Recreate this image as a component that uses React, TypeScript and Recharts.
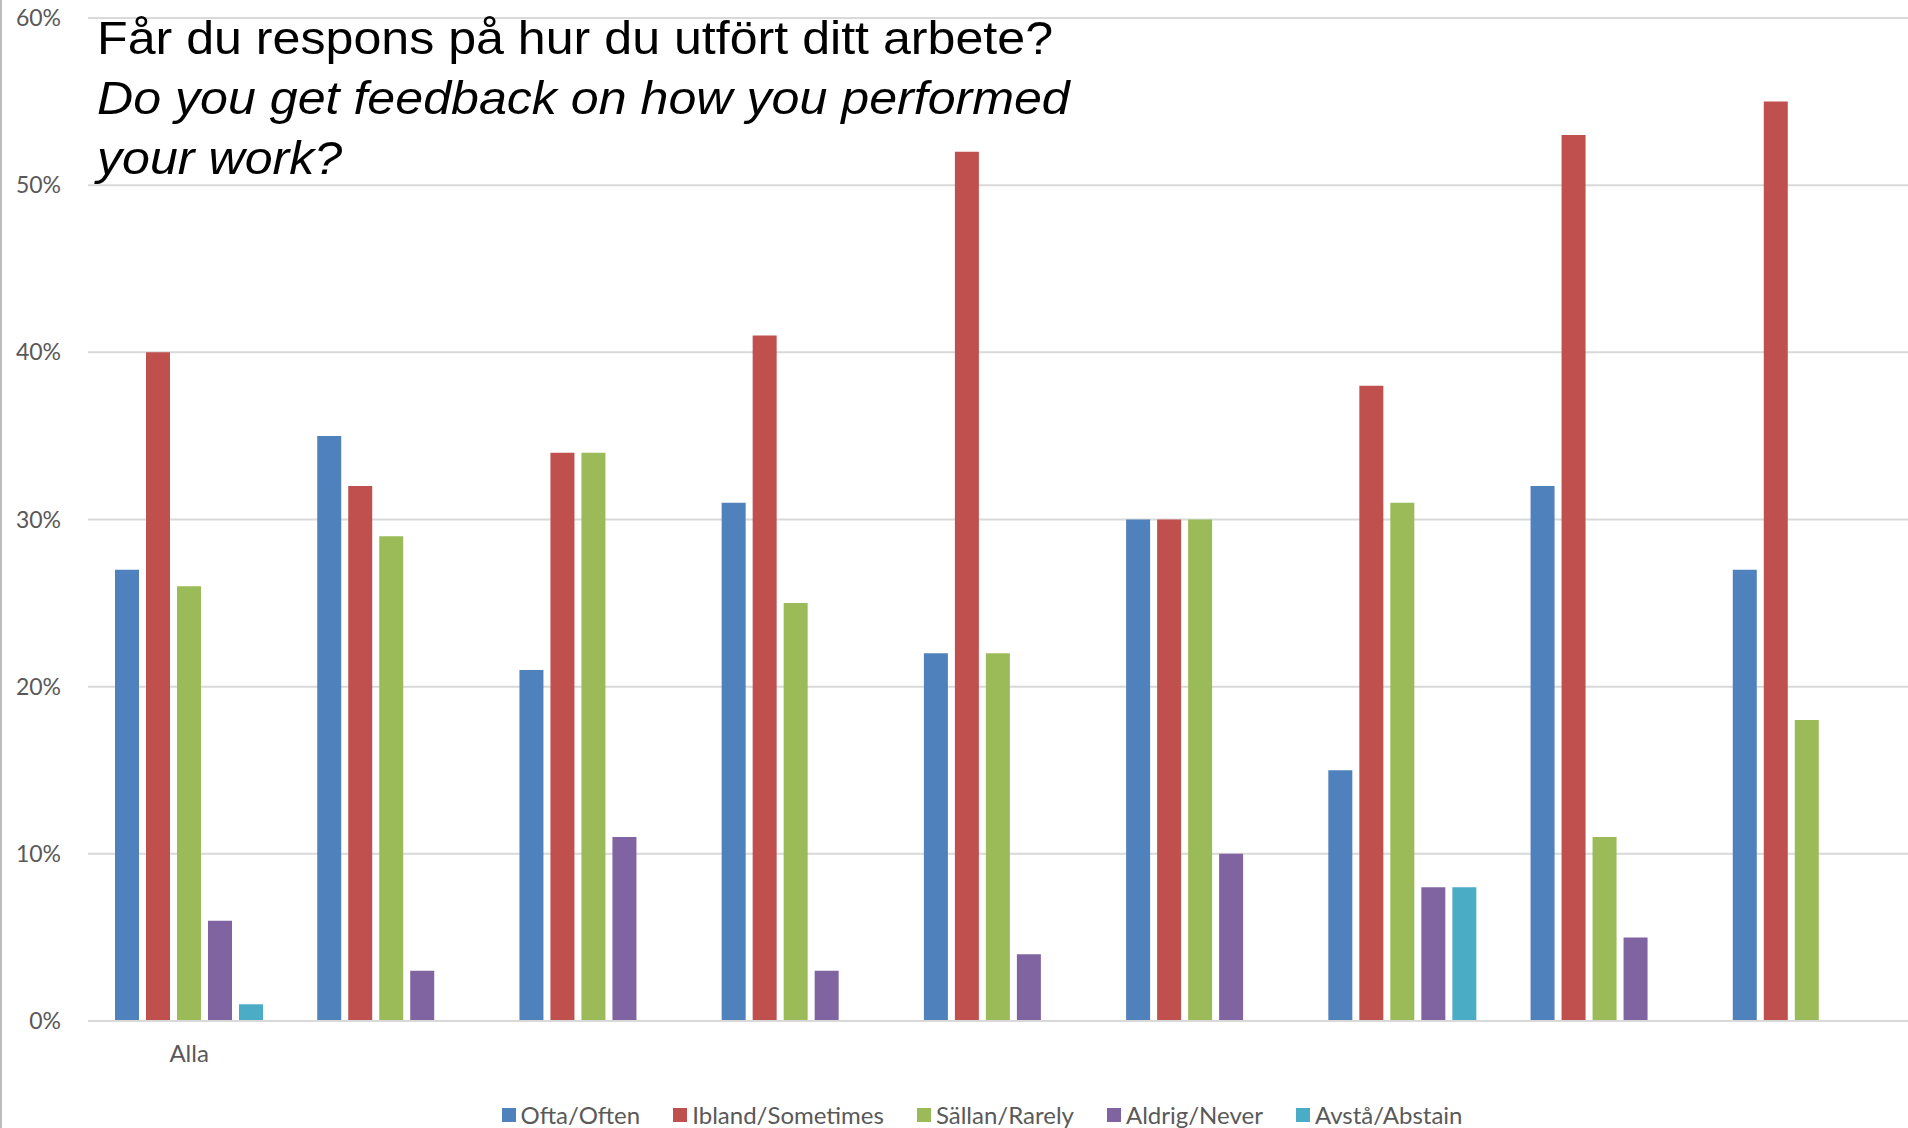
import { BarChart, Bar, XAxis, YAxis, CartesianGrid, Legend } from "recharts";

const groups = ["Alla", "", "", "", "", "", "", "", ""];
const often = [27, 35, 21, 31, 22, 30, 15, 32, 27];
const sometimes = [40, 32, 34, 41, 52, 30, 38, 53, 55];
const rarely = [26, 29, 34, 25, 22, 30, 31, 11, 18];
const never = [6, 3, 11, 3, 4, 10, 8, 5, null];
const abstain = [1, null, null, null, null, null, 8, null, null];
const yTicks = [0, 10, 20, 30, 40, 50, 60];

const series = [
  { key: "often", name: "Ofta/Often", color: "#4F81BD" },
  { key: "sometimes", name: "Ibland/Sometimes", color: "#C0504D" },
  { key: "rarely", name: "Sällan/Rarely", color: "#9BBB59" },
  { key: "never", name: "Aldrig/Never", color: "#8064A2" },
  { key: "abstain", name: "Avstå/Abstain", color: "#4BACC6" },
];

const data = groups.map((g, i) => ({
  group: g,
  often: often[i],
  sometimes: sometimes[i],
  rarely: rarely[i],
  never: never[i],
  abstain: abstain[i],
}));

const font = "Lato, 'Open Sans', sans-serif";

function LegendBox() {
  return (
    <div style={{ display: "flex", justifyContent: "center", alignItems: "center", fontFamily: font, fontSize: 24, color: "#595959" }}>
      {series.map((s, i) => (
        <div key={s.key} style={{ display: "flex", alignItems: "center", marginRight: i === series.length - 1 ? 0 : 33 }}>
          <span style={{ width: 14, height: 14, background: s.color, display: "inline-block", marginRight: 5 }} />
          <span>{s.name}</span>
        </div>
      ))}
    </div>
  );
}

export default function App() {
  return (
    <div style={{ position: "absolute", left: 0, top: 0, width: 1908, height: 1128, background: "#fff" }}>
      <div style={{ position: "absolute", left: 0, top: 0, width: 2, height: 1128, background: "#bdbdbd" }} />
      <BarChart
        width={1908}
        height={1128}
        data={data}
        margin={{ top: 18, right: 0, bottom: 0, left: 0 }}
        barSize={24}
        barGap={7}
      >
        <CartesianGrid vertical={false} stroke="#d9d9d9" strokeWidth={2} />
        <XAxis
          dataKey="group"
          height={107}
          tickLine={false}
          tickSize={0}
          tickMargin={24}
          axisLine={{ stroke: "#d9d9d9", strokeWidth: 2 }}
          tick={{ fill: "#595959", fontSize: 24, fontFamily: font }}
          interval={0}
        />
        <YAxis
          width={88}
          domain={[0, 60]}
          ticks={yTicks}
          tickFormatter={(v) => `${v}%`}
          tickLine={false}
          tickSize={0}
          tickMargin={27}
          axisLine={false}
          tick={{ fill: "#595959", fontSize: 23, fontFamily: font }}
        />
        <Legend
          verticalAlign="middle"
          content={<LegendBox />}
          wrapperStyle={{ top: 1100, left: 28, width: 1908, height: 30 }}
        />
        {series.map((s) => (
          <Bar key={s.key} dataKey={s.key} name={s.name} fill={s.color} isAnimationActive={false} />
        ))}
      </BarChart>
      <div
        style={{
          position: "absolute",
          left: 97,
          top: 8,
          fontFamily: "'Liberation Sans', Arial, sans-serif",
          fontSize: 46,
          lineHeight: "60px",
          color: "#000",
          whiteSpace: "nowrap",
          transform: "scaleX(1.09)",
          transformOrigin: "left top",
        }}
      >
        <div>Får du respons på hur du utfört ditt arbete?</div>
        <div style={{ fontStyle: "italic" }}>Do you get feedback on how you performed</div>
        <div style={{ fontStyle: "italic" }}>your work?</div>
      </div>
    </div>
  );
}
